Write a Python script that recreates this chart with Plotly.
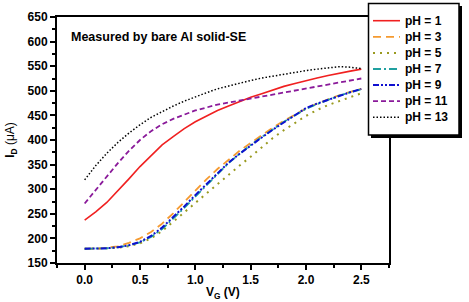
import plotly.graph_objects as go

vg = [0.0, 0.1, 0.2, 0.3, 0.4, 0.5, 0.6, 0.7, 0.8, 0.9, 1.0, 1.1, 1.2, 1.3,
      1.4, 1.5, 1.6, 1.7, 1.8, 1.9, 2.0, 2.1, 2.2, 2.3, 2.4, 2.5]

ph1 = [237, 254, 273, 296, 321, 346, 368, 390, 407, 423, 437, 449, 460, 469,
       478, 487, 494, 502, 509, 515, 521, 526, 531, 536, 540, 544]
ph3 = [179, 179, 181, 184, 191, 200, 213, 230, 251, 274, 298, 320, 341, 360,
       378, 394, 410, 425, 439, 452, 464, 474, 483, 491, 498, 504]
ph5 = [179, 179, 180, 181, 184, 190, 200, 215, 234, 255, 272, 292, 311, 330,
       348, 366, 385, 404, 420, 435, 449, 461, 471, 479, 487, 495]
ph7 = [179, 179, 180, 182, 186, 192, 203, 219, 240, 262, 285, 308, 331, 353,
       372, 390, 406, 422, 437, 450, 463, 473, 482, 490, 497, 503]
ph9 = [179, 179, 180, 182, 186, 193, 205, 222, 243, 265, 288, 310, 333, 354,
       372, 389, 405, 421, 436, 450, 465, 474, 482, 490, 497, 504]
ph11 = [271, 299, 327, 353, 378, 400, 418, 432, 443, 452, 460, 466, 472, 476,
        480, 484, 488, 492, 496, 500, 504, 508, 512, 516, 520, 525]
ph13 = [319, 348, 373, 395, 414, 431, 446, 458, 469, 479, 488, 496, 504, 510,
        516, 521, 526, 530, 534, 538, 541, 544, 547, 549, 548, 545]

names = ["pH = 1", "pH = 3", "pH = 5", "pH = 7", "pH = 9", "pH = 11", "pH = 13"]
series = [ph1, ph3, ph5, ph7, ph9, ph11, ph13]
colors = ["#f02020", "#f59a30", "#9a9a20", "#20a0a0", "#1010d0", "#8a1a9a", "#000000"]
dashes = ["solid", "8px,5px", "2px,5px", "8px,3px,2px,3px",
          "6px,2px,2px,2px,2px,2px", "5px,3px", "1.5px,2px"]
widths = [1.6, 1.8, 2.0, 1.8, 2.0, 1.8, 1.5]

FONT = "Liberation Sans, Arial, sans-serif"

fig = go.Figure()
for n, s, c, d, w in zip(names, series, colors, dashes, widths):
    fig.add_trace(go.Scatter(x=vg, y=s, mode="lines", name=n, showlegend=False,
                             line=dict(color=c, dash=d, width=w)))

L, R, T, B = 57, 80, 17, 39
W, H = 469, 302
pw, ph = W - L - R, H - T - B

def px2paper_x(px):
    return (px - L) / pw

def px2paper_y(py):
    return (H - B - py) / ph

# custom legend box with drop shadow
fig.add_shape(type="rect", xref="paper", yref="paper",
              x0=px2paper_x(371), x1=px2paper_x(462),
              y0=px2paper_y(138), y1=px2paper_y(6),
              fillcolor="black", line=dict(width=0), layer="above")
fig.add_shape(type="rect", xref="paper", yref="paper",
              x0=px2paper_x(368.5), x1=px2paper_x(459),
              y0=px2paper_y(135), y1=px2paper_y(3.5),
              fillcolor="white", line=dict(color="black", width=1.5), layer="above")
for i, (n, c, d, w) in enumerate(zip(names, colors, dashes, widths)):
    yy = px2paper_y(20.7 + 16.1 * i)
    fig.add_shape(type="line", xref="paper", yref="paper",
                  x0=px2paper_x(373), x1=px2paper_x(400), y0=yy, y1=yy,
                  line=dict(color=c, dash=d, width=w), layer="above")
    fig.add_annotation(text="<b>%s</b>" % n, xref="paper", yref="paper",
                       x=px2paper_x(403), y=yy, xanchor="left", yanchor="middle",
                       showarrow=False, font=dict(family=FONT, size=12, color="black"))

fig.add_annotation(text="<b>Measured by bare Al solid-SE</b>", xref="paper", yref="paper",
                   x=px2paper_x(69), y=px2paper_y(37), xanchor="left", yanchor="middle",
                   showarrow=False, font=dict(family=FONT, size=12.5, color="black"))

# x-axis title placed low, like the reference
fig.add_annotation(text="<b>V<sub>G</sub> (V)</b>", xref="paper", yref="paper",
                   x=px2paper_x(223), y=px2paper_y(293), xanchor="center", yanchor="middle",
                   showarrow=False, font=dict(family=FONT, size=12, color="black"))

fig.update_layout(
    width=W, height=H,
    margin=dict(l=L, r=R, t=T, b=B, autoexpand=False),
    paper_bgcolor="white", plot_bgcolor="white",
    font=dict(family=FONT, size=12, color="black"),
    showlegend=False,
    xaxis=dict(range=[-0.25, 2.75], tickvals=[0, 0.5, 1.0, 1.5, 2.0, 2.5],
               ticktext=["<b>0.0</b>", "<b>0.5</b>", "<b>1.0</b>", "<b>1.5</b>", "<b>2.0</b>", "<b>2.5</b>"],
               ticks="outside", ticklen=5, tickwidth=1.5, tickcolor="black",
               minor=dict(dtick=0.25, tick0=0, ticks="outside", ticklen=3, tickwidth=1.5, tickcolor="black"),
               showline=True, linecolor="black", linewidth=2, mirror=True,
               showgrid=False, zeroline=False, automargin=False,
               tickfont=dict(family=FONT, size=12)),
    yaxis=dict(range=[150, 650], tickvals=list(range(150, 651, 50)),
               ticktext=["<b>%d</b>" % v for v in range(150, 651, 50)],
               ticks="outside", ticklen=5, tickwidth=1.5, tickcolor="black",
               minor=dict(dtick=25, tick0=150, ticks="outside", ticklen=3, tickwidth=1.5, tickcolor="black"),
               showline=True, linecolor="black", linewidth=2, mirror=True,
               showgrid=False, zeroline=False, automargin=False,
               tickfont=dict(family=FONT, size=12),
               title=dict(text="<b>I<sub>D</sub></b> (μA)", standoff=10,
                          font=dict(family=FONT, size=12))),
)

fig.write_html("out.html")
